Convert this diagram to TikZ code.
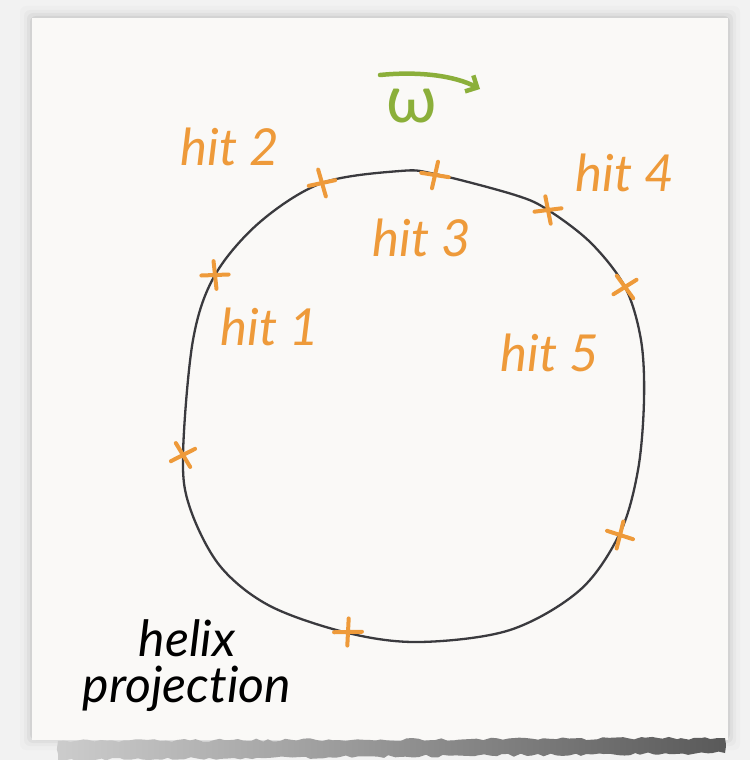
\documentclass[tikz,border=0pt]{standalone}
\usepackage{fontspec}
\setmainfont{Lato}[Ligatures={NoCommon}]
\usetikzlibrary{arrows.meta,decorations.pathmorphing}
\definecolor{bgc}{HTML}{F2F2F2}
\definecolor{paper}{HTML}{FAF9F7}
\definecolor{hitorange}{HTML}{EE9A3A}
\definecolor{omegagreen}{HTML}{8BAF3A}
\definecolor{curvegray}{HTML}{3A3A3E}
\tikzset{
  hitlabel/.style={text=hitorange, font=\fontsize{51}{53}\selectfont\itshape, inner sep=0pt},
  curveline/.style={draw=curvegray, line width=2.3pt},
  xmark/.pic={\draw[hitorange, line width=4pt, line cap=round] (-5,-13) -- (5,13) (-13,4) -- (13,-4);},
}
\begin{document}
\begin{tikzpicture}[x=1pt,y=-1pt]
\useasboundingbox (0,0) rectangle (750,760);
\fill[bgc] (0,0) rectangle (750,760);
% soft paper shadow
\foreach \d/\o in {12/0.015,8/0.025,5/0.035,2/0.05}{
  \fill[black, opacity=\o, rounded corners=6pt] (32-\d,18-\d) rectangle (728+\d,738+\d);
}
\fill[paper] (32,18) rectangle (728,740);
% bottom ragged edge
\pgfmathsetseed{7}
\shade[left color=gray!40, right color=gray!70!black, decorate, decoration={random steps, segment length=6pt, amplitude=1.5pt}]
  (58,741) -- (725,738) -- (725,753) -- (58,760) -- cycle;
% helix projection curve
\draw[curveline] plot[smooth cycle, tension=0.55] coordinates {
  (183,455) (193,340) (215,275) (260,222) (322,183) (400,171) (435,174)
  (515,195) (548,210) (591,243) (625,287) (641,340) (644,400) (638,470) (620,533) (580,590)
  (510,630) (420,642) (348,633) (270,606) (220,566) (190,508)};
% hit marks
\pic[rotate=10] at (183,455) {xmark};
\pic[rotate=-15] at (215,275) {xmark};
\pic[rotate=-5] at (322,183) {xmark};
\pic[rotate=60] at (435,175) {xmark};
\pic[rotate=-10] at (548,210) {xmark};
\pic[rotate=15] at (625,287) {xmark};
\pic[rotate=-35] at (620,535) {xmark};
\pic[rotate=70] at (348,632) {xmark};
% labels
\node[hitlabel] (h1) at (270,327) {hit 1};
\node[hitlabel] (h2) at (230,147) {hit 2};
\node[hitlabel] (h3) at (422,238) {hit 3};
\node[hitlabel] (h4) at (625,173) {hit 4};
\node[hitlabel] (h5) at (550,353) {hit 5};
% omega
\node[text=omegagreen, font=\fontsize{66}{68}\selectfont, inner sep=0pt] (om) at (412,106) {ω};
\coordinate (a0) at (380,75);
\coordinate (a1) at (480,89);
\draw[omegagreen, line width=4.5pt, line cap=round, -{Straight Barb[length=9pt,width=18pt,line width=4.5pt]}]
  (a0) .. controls (420,71) and (455,76) .. (a1);
% caption
\node[font=\fontsize{50}{46}\selectfont\itshape, align=center, inner sep=0pt] (cap) at (187,666) {helix\\projec\kern0pt tion};
\end{tikzpicture}
\end{document}
